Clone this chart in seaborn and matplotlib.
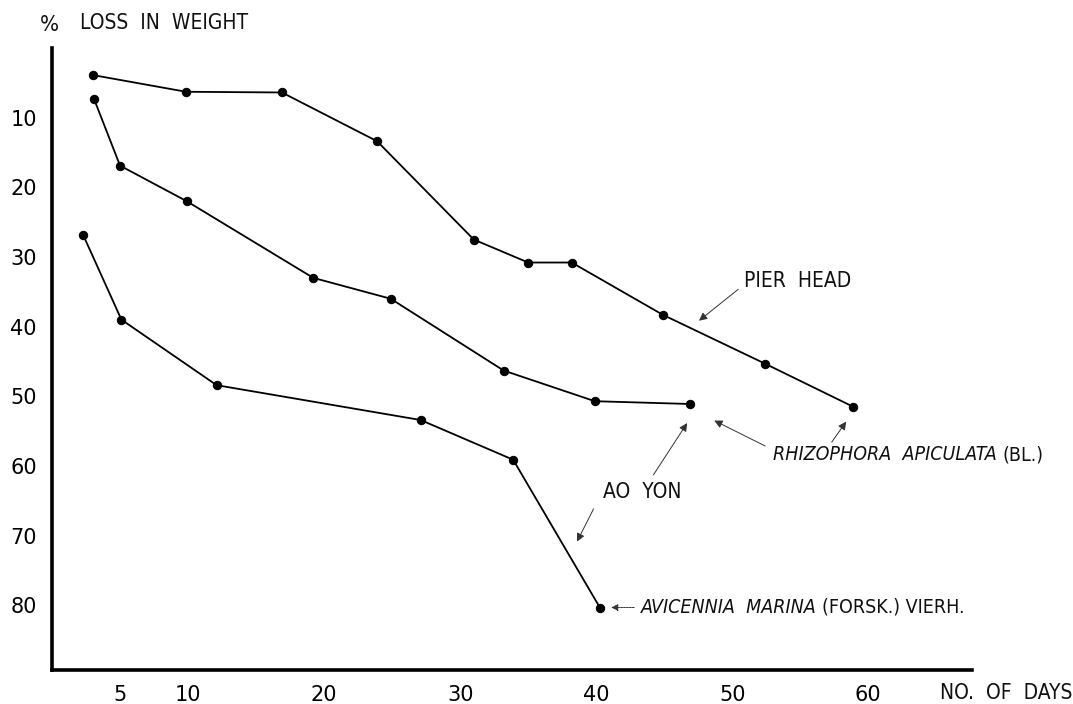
import matplotlib
matplotlib.use('Agg')
import matplotlib.pyplot as plt
import seaborn as sns

# 일수 / 무게 감소율 (%)
pier_days = [3.0, 9.85, 16.9, 23.9, 31.0, 35.0, 38.2, 44.9, 52.4, 58.9]
pier_loss = [3.9, 6.3, 6.4, 13.4, 27.5, 30.8, 30.8, 38.3, 45.3, 51.5]

aoyon_days = [3.1, 5.0, 9.9, 19.2, 24.9, 33.2, 39.9, 46.9]
aoyon_loss = [7.4, 16.9, 22.0, 33.0, 36.0, 46.3, 50.7, 51.1]

avic_days = [2.3, 5.1, 12.1, 27.1, 33.9, 40.3]
avic_loss = [26.9, 39.0, 48.4, 53.4, 59.1, 80.4]

x_ticks = [5, 10, 20, 30, 40, 50, 60]
y_ticks = [10, 20, 30, 40, 50, 60, 70, 80]

sns.set_style('white')
plt.rcParams['font.family'] = ['DejaVu Sans']
lbl = dict(family=['DejaVu Sans'], fontstretch='condensed', fontsize=15, color='#111111')
spc = dict(lbl, fontsize=14)

fig = plt.figure(figsize=(10.73, 7.04), dpi=100)
ax = fig.add_axes([0.0485, 0.048, 0.857, 0.884])

for xs, ys in [(pier_days, pier_loss), (aoyon_days, aoyon_loss), (avic_days, avic_loss)]:
    sns.lineplot(x=xs, y=ys, ax=ax, sort=False, color='black', linewidth=1.3,
                 marker='o', markersize=6, markeredgecolor='black')

ax.set_xlim(0, 67.6)
ax.set_ylim(89.3, 0)
ax.set_xticks(x_ticks)
ax.set_yticks(y_ticks)
ax.tick_params(axis='both', direction='out', length=5, width=1.2, labelsize=15, pad=6, colors='black')
for side in ['top', 'right']:
    ax.spines[side].set_visible(False)
for side in ['left', 'bottom']:
    ax.spines[side].set_linewidth(2.6)
    ax.spines[side].set_color('black')

fig.text(0.037, 0.965, '%', ha='left', va='center', **dict(lbl, fontsize=16))
fig.text(0.075, 0.968, 'LOSS  IN  WEIGHT', ha='left', va='center', **lbl)
fig.text(0.876, 0.015, 'NO.  OF  DAYS', ha='left', va='center', **lbl)

arrow = dict(arrowstyle='-|>', color='#333333', lw=0.7, mutation_scale=12)

ax.text(50.9, 33.4, 'PIER  HEAD', ha='left', va='center', **lbl)
ax.annotate('', xy=(47.4, 39.4), xytext=(50.6, 34.4), arrowprops=arrow)

ax.annotate('', xy=(58.5, 53.3), xytext=(57.2, 56.9), arrowprops=arrow)
ax.annotate('', xy=(48.5, 53.3), xytext=(52.6, 57.3), arrowprops=arrow)
rhiz = ax.text(53.0, 58.4, 'RHIZOPHORA  APICULATA', ha='left', va='center', style='italic', **spc)
ax.annotate('(BL.)', xy=(1, 0.5), xycoords=rhiz, xytext=(4, 0), textcoords='offset points',
            ha='left', va='center', **spc)

ax.text(43.4, 63.8, 'AO  YON', ha='center', va='center', **lbl)
ax.annotate('', xy=(46.8, 53.5), xytext=(44.1, 61.6), arrowprops=arrow)
ax.annotate('', xy=(38.5, 71.2), xytext=(39.9, 65.8), arrowprops=arrow)

ax.annotate('', xy=(40.9, 80.3), xytext=(43.0, 80.3),
            arrowprops=dict(arrowstyle='-|>', color='#333333', lw=0.7, mutation_scale=10,
                            linestyle=(0, (2, 1))))
avic = ax.text(43.3, 80.3, 'AVICENNIA  MARINA', ha='left', va='center', style='italic', **spc)
ax.annotate('(FORSK.) VIERH.', xy=(1, 0.5), xycoords=avic, xytext=(4, 0), textcoords='offset points',
            ha='left', va='center', **spc)

fig.savefig('out.png', dpi=100)
